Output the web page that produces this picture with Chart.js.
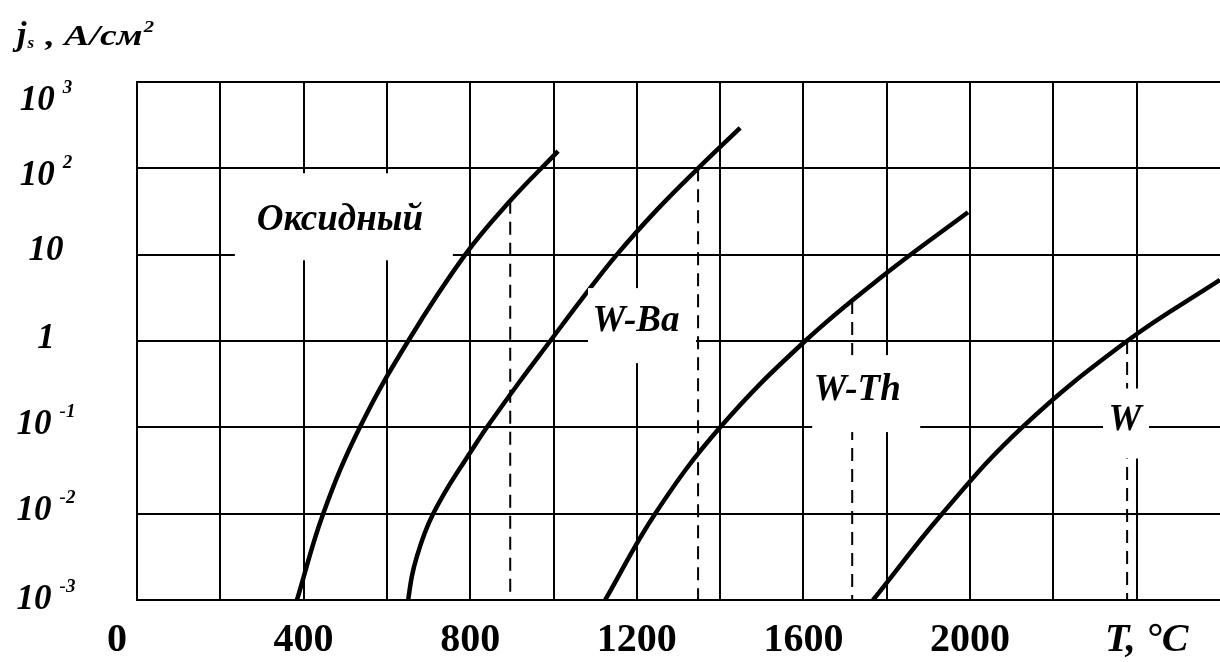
<!DOCTYPE html>
<html>
<head>
<meta charset="utf-8">
<script src="https://cdn.jsdelivr.net/npm/chart.js@4.4.1/dist/chart.umd.min.js"></script>
<style>
  body { margin: 0; background: #fff; }
  #wrap { width: 1220px; height: 662px; }
</style>
</head>
<body>
<div id="wrap"><canvas id="myChart"></canvas></div>
<script>
// emission curves, T in °C, j in A/cm2
const oxideT = [384, 447, 535, 651, 788, 896, 1011];
const oxideJ = [0.001, 0.01, 0.1, 1, 10, 42, 158];
const wbaT = [651, 660, 672, 691, 711, 751, 800, 840, 915, 992, 1071, 1152, 1248, 1347, 1448];
const wbaJ = [0.001, 0.0019, 0.0032, 0.006, 0.01, 0.022, 0.051, 0.1, 0.32, 1, 3.2, 10, 33, 100, 295];
const wthT = [1124, 1244, 1400, 1604, 1801, 1995];
const wthJ = [0.001, 0.01, 0.1, 1, 6.2, 31];
const wT = [1767, 1933, 2125, 2377, 2600];
const wJ = [0.001, 0.01, 0.1, 1, 5.1];

// dashed drop lines (working temperature)
const dropT = [896, 1347, 1717, 2377];
const dropJ = [42, 100, 2.9, 1];

const xTicks = [0, 400, 800, 1200, 1600, 2000, 2400];
const xTickLabels = ['0', '400', '800', '1200', '1600', '2000', 'T, °C'];
const yTicks = [0.001, 0.01, 0.1, 1, 10, 100, 1000];
const yTickBase = ['10', '10', '10', '1', '10', '10', '10'];
const yTickExp = ['-3', '-2', '-1', '', '', '2', '3'];

const noteText = ['Оксидный', 'W-Ba', 'W-Th', 'W'];
const noteT = [487, 1198, 1729, 2372];
const noteJ = [25, 1.7, 0.27, 0.12];

const pts = (xs, ys) => xs.map((x, i) => ({ x: x, y: ys[i] }));

const curve = (d) => ({
  data: d,
  borderColor: '#000',
  borderWidth: 4.5,
  pointRadius: 0,
  tension: 0.4
});

const drops = dropT.map((t, i) => ({
  data: [{ x: t, y: dropJ[i] }, { x: t, y: 0.001 }],
  borderColor: '#000',
  borderWidth: 2,
  borderDash: [13, 8],
  pointRadius: 0
}));

const data = {
  datasets: [
    curve(pts(oxideT, oxideJ)),
    curve(pts(wbaT, wbaJ)),
    curve(pts(wthT, wthJ)),
    curve(pts(wT, wJ))
  ].concat(drops)
};

// white boxes behind the curve names: [dx, dy, w, h] from text centre
const noteBox = [[-105, -47, 218, 87], [-48, -33, 108, 75], [-45, -35, 108, 77], [-22, -32, 46, 70]];
const yLabelShift = [0, -3, -2, -2, -4, 8, 19];

const notesPlugin = {
  id: 'notes',
  afterDatasetsDraw(chart) {
    const ctx = chart.ctx;
    const xs = chart.scales.x;
    const ys = chart.scales.y;
    ctx.save();
    ctx.fillStyle = '#000';

    noteText.forEach((t, i) => {
      const cx = xs.getPixelForValue(noteT[i]);
      const cy = ys.getPixelForValue(noteJ[i]);
      const b = noteBox[i];
      ctx.fillStyle = '#fff';
      ctx.fillRect(cx + b[0], cy + b[1], b[2], b[3]);
      ctx.fillStyle = '#000';
      ctx.font = 'italic bold 37px "Liberation Serif"';
      ctx.textAlign = 'center';
      ctx.textBaseline = 'middle';
      ctx.fillText(t, cx, cy);
    });

    // y tick labels with real superscripts
    yTicks.forEach((v, i) => {
      const py = ys.getPixelForValue(v) + yLabelShift[i];
      ctx.font = 'italic bold 35px "Liberation Serif"';
      const wb = ctx.measureText(yTickBase[i]).width;
      ctx.font = 'italic bold 19px "Liberation Serif"';
      const we = yTickExp[i] ? ctx.measureText(yTickExp[i]).width + 8 : 0;
      const x0 = 46 - (wb + we) / 2;
      ctx.textAlign = 'left';
      ctx.textBaseline = 'middle';
      ctx.font = 'italic bold 35px "Liberation Serif"';
      ctx.fillText(yTickBase[i], x0, py);
      if (yTickExp[i]) {
        ctx.font = 'italic bold 19px "Liberation Serif"';
        ctx.fillText(yTickExp[i], x0 + wb + 8, py - 13);
      }
    });

    // axis title  j_s , A/см^2
    ctx.textAlign = 'left';
    ctx.textBaseline = 'alphabetic';
    const base = 45;
    ctx.font = 'italic bold 34px "Liberation Serif"';
    ctx.fillText('j', 17, base);
    let x = 17 + ctx.measureText('j').width;
    ctx.font = 'italic bold 17px "Liberation Serif"';
    ctx.fillText('s', x + 1, base + 3);
    x += ctx.measureText('s').width + 3;
    ctx.save();
    ctx.translate(x, base);
    ctx.scale(1.3, 1);
    ctx.font = 'italic bold 29px "Liberation Serif"';
    ctx.fillText(' , A/см', 0, 0);
    const w = ctx.measureText(' , A/см').width;
    ctx.font = 'italic bold 16px "Liberation Serif"';
    ctx.fillText('2', w + 1, -13);
    ctx.restore();
    ctx.restore();
  }
};

const config = {
  type: 'line',
  data: data,
  options: {
    responsive: true,
    maintainAspectRatio: false,
    animation: false,
    layout: { padding: { top: 82, right: 0, left: 0, bottom: 0 } },
    plugins: {
      legend: { display: false },
      tooltip: { enabled: false }
    },
    scales: {
      x: {
        type: 'linear',
        min: 0,
        max: 2600,
        afterFit: (scale) => {
          scale.height = 62;
          scale.paddingLeft = 0;
          scale.paddingRight = 0;
        },
        grid: {
          color: (c) => (c.tick && c.tick.value === 2600 ? 'rgba(0,0,0,0)' : '#000'),
          lineWidth: 2,
          drawTicks: false
        },
        border: { display: true, color: '#000', width: 2 },
        ticks: {
          stepSize: 200,
          autoSkip: false,
          maxRotation: 0,
          padding: 17,
          color: '#000',
          font: (c) => ({
            family: '"Liberation Serif"',
            size: 40,
            weight: 'bold',
            style: c.tick && c.tick.value === 2400 ? 'italic' : 'normal'
          }),
          callback: (v) => {
            const i = xTicks.indexOf(v);
            if (i < 0) return '';
            if (i === 0) return xTickLabels[i] + '    ';
            if (v === 2400) return '  ' + xTickLabels[i];
            return xTickLabels[i];
          }
        }
      },
      y: {
        type: 'logarithmic',
        min: 0.001,
        max: 1000,
        afterFit: (scale) => { scale.width = 137; },
        afterBuildTicks: (scale) => {
          scale.ticks = yTicks.map((v) => ({ value: v }));
        },
        grid: { color: '#000', lineWidth: 2, drawTicks: false },
        border: { display: true, color: '#000', width: 2 },
        ticks: { display: false }
      }
    }
  },
  plugins: [notesPlugin]
};

const myChart = new Chart(
  document.getElementById('myChart'),
  config
);
</script>
</body>
</html>
